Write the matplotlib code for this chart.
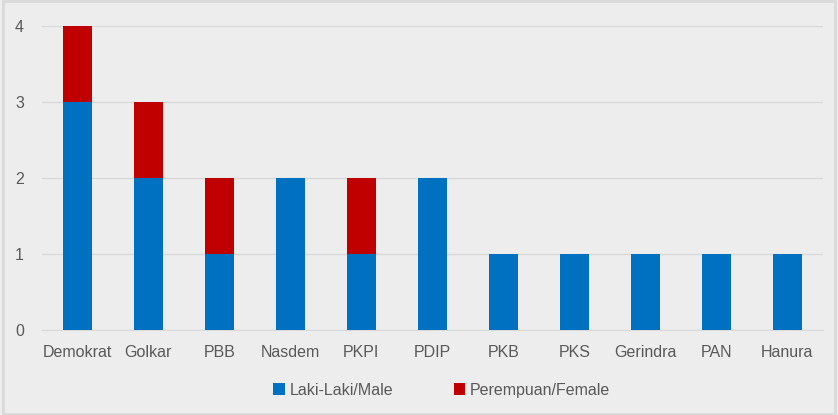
import matplotlib.pyplot as plt
import numpy as np

# data
partai = ['Demokrat', 'Golkar', 'PBB', 'Nasdem', 'PKPI', 'PDIP', 'PKB', 'PKS',
          'Gerindra', 'PAN', 'Hanura']
laki = [3, 2, 1, 2, 1, 2, 1, 1, 1, 1, 1]
perempuan = [1, 1, 1, 0, 1, 0, 0, 0, 0, 0, 0]
yticks = [0, 1, 2, 3, 4]

bg = '#EDEDED'
txt = '#595959'
plt.rcParams['font.family'] = ['Liberation Sans', 'DejaVu Sans']

fig = plt.figure(figsize=(8.38, 4.15), dpi=100, facecolor=bg)
ax = fig.add_axes([0.050, 0.205, 0.932, 0.732], facecolor=bg)

x = np.arange(len(partai))
w = 0.41
ax.bar(x, laki, w, color='#0070C0', label='Laki-Laki/Male', zorder=3)
ax.bar(x, perempuan, w, bottom=laki, color='#C00000', label='Perempuan/Female', zorder=3)

ax.set_xlim(-0.5, len(partai) - 0.5)
ax.set_ylim(0, 4)
ax.set_yticks(yticks)
ax.set_xticks(x)
ax.set_xticklabels(partai)
ax.grid(axis='y', color='#D9D9D9', linewidth=1, zorder=0)
for s in ['top', 'right', 'left']:
    ax.spines[s].set_visible(False)
ax.spines['bottom'].set_color('#D9D9D9')
ax.tick_params(axis='both', length=0, labelsize=11.5, colors=txt)
ax.tick_params(axis='x', pad=11)
ax.tick_params(axis='y', pad=13)

leg = fig.legend(loc='center', bbox_to_anchor=(0.527, 0.06), ncol=2, frameon=False,
                 fontsize=11.5, handlelength=0.7, handleheight=0.7, handletextpad=0.3,
                 columnspacing=3.8)
for t in leg.get_texts():
    t.set_color(txt)

# border
fig.patches.append(plt.Rectangle((0.003, 0.003), 0.994, 0.994, transform=fig.transFigure,
                                 fill=False, edgecolor='#D9D9D9', linewidth=2))

fig.savefig('out.png', dpi=100, facecolor=bg)
